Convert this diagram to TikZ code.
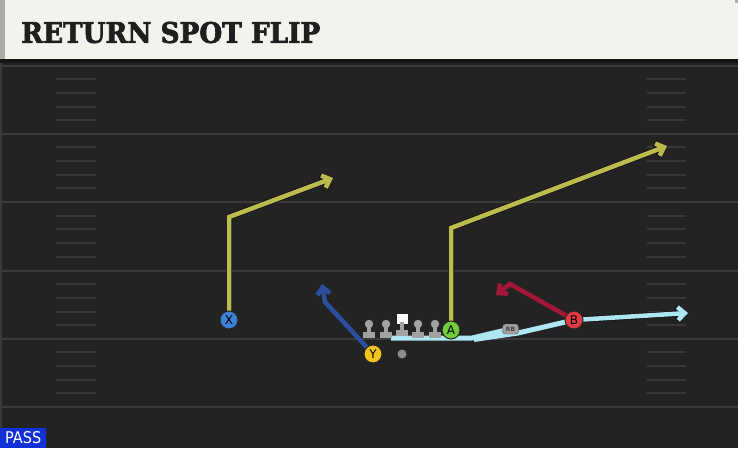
\documentclass[tikz,border=0pt]{standalone}
\usepackage{fontspec}
\setmainfont{DejaVu Serif}
\setsansfont{DejaVu Sans}
\newfontfamily\titlefont[BoldFeatures={FakeBold=2.5}]{DejaVu Serif}
\usetikzlibrary{arrows.meta}
\definecolor{fieldbg}{HTML}{232323}
\definecolor{titlebg}{HTML}{F4F2EC}
\definecolor{titlestrip}{HTML}{A9ACA9}
\definecolor{shadowc}{HTML}{161616}
\definecolor{yardc}{HTML}{3A3A3A}
\definecolor{hashc}{HTML}{383838}
\definecolor{routeyel}{HTML}{BBBB4E}
\definecolor{routeblu}{HTML}{2B4F9E}
\definecolor{routered}{HTML}{A3163A}
\definecolor{routelbl}{HTML}{AEE6F2}
\definecolor{pX}{HTML}{3D7FD9}
\definecolor{pY}{HTML}{F2C31B}
\definecolor{pA}{HTML}{72CC3C}
\definecolor{pB}{HTML}{E23B43}
\definecolor{linec}{HTML}{A2A2A2}
\definecolor{passblue}{HTML}{1230D8}
\definecolor{outl}{HTML}{101018}
\begin{document}
\begin{tikzpicture}[x=1pt,y=-1pt,
  yard/.style={draw=yardc,line width=2pt},
  hash/.style={draw=hashc,line width=2pt},
  tipb/.style={-{Straight Barb[length=7pt,width=13pt]}},
  routeo/.style={line width=6pt,draw=outl,line join=miter,tipb},
  route/.style={line width=4.5pt,line join=miter,tipb},
  motion/.style={line width=5pt,draw=routelbl,line join=round},
  player/.style={circle,minimum size=18pt,inner sep=0pt,draw=black!85,line width=1pt,font=\sffamily\fontsize{12}{12}\selectfont,text=black},
  lineman/.style={fill=linec}
]
\useasboundingbox (0,0) rectangle (738,448);
% background
\fill[fieldbg] (0,0) rectangle (738,448);
\fill[yardc] (0,63) rectangle (2,448);
\foreach \y in {65.5,133.5,202,270.5,338.5,407}{\draw[yard] (0,\y) -- (738,\y);}
\foreach \y in {65.5,133.5,202,270.5,338.5}{
  \foreach \k in {1,2,3,4}{
    \pgfmathsetmacro{\yy}{\y+\k*13.7}
    \draw[hash] (56,\yy) -- (96,\yy);
    \draw[hash] (647,\yy) -- (686,\yy);
  }
}
% title
\fill[shadowc] (0,59) rectangle (738,63);
\fill[titlebg] (0,0) rectangle (738,59);
\fill[titlestrip] (0,0) rectangle (5,59);
\fill[titlestrip] (735,0) rectangle (738,3);
\node[anchor=west,inner sep=0pt,text=black!88] (title) at (21,32.5)
  {\resizebox{299pt}{21pt}{\titlefont\bfseries RETURN SPOT FLIP}};
% coordinates
\coordinate (cX) at (229,320);
\coordinate (cY) at (373,354);
\coordinate (cA) at (451,330);
\coordinate (cB) at (574,320);
\coordinate (xc) at (229,217);
\coordinate (xt) at (333,178);
\coordinate (ac) at (451,228);
\coordinate (at) at (667,146);
\coordinate (yc) at (325,302);
\coordinate (yt) at (322,284);
\coordinate (bc) at (510,284);
\coordinate (bt) at (496,295);
\coordinate (m0) at (391,338);
\coordinate (m1) at (472,338);
\coordinate (m2) at (506,330);
\coordinate (m3) at (474,339.5);
\coordinate (m4) at (518,333);
\coordinate (mt) at (688,313);
% motion / light blue
\draw[motion] (m0) -- (m1) -- (m2);
\draw[motion] (m3) -- (m4) -- (cB);
\draw[routeo] (cB) -- (mt);
\draw[route,draw=routelbl] (cB) -- (mt);
% routes
\draw[routeo] (cX) -- (xc) -- (xt);
\draw[route,draw=routeyel] (cX) -- (xc) -- (xt);
\draw[routeo] (cA) -- (ac) -- (at);
\draw[route,draw=routeyel] (cA) -- (ac) -- (at);
\draw[route,draw=routeblu] (cY) -- (yc) -- (yt);
\draw[route,draw=routered] (cB) -- (bc) -- (bt);
% linemen
\foreach \lx in {369,386,418,435}{
  \fill[lineman] (\lx,324) circle (4.2);
  \fill[lineman] (\lx-2.2,325) rectangle (\lx+2.2,333);
  \fill[lineman] (\lx-6,332) rectangle (\lx+6,337.5);
}
\fill[white] (396.5,313.5) rectangle (407.5,323.5);
\fill[linec] (399.8,322) rectangle (404.2,331);
\fill[linec] (396,330) rectangle (408,335.5);
% ball
\fill[black!45] (402,354) circle (4.5);
% RB
\node[draw=black!70,fill=linec,rounded corners=3pt,minimum width=16pt,minimum height=10pt,inner sep=0pt,
  font=\sffamily\bfseries\fontsize{6}{6}\selectfont,text=black!75] (RB) at (510.5,329) {RB};
% players
\node[player,fill=pX] (X) at (cX) {X};
\node[player,fill=pY] (Y) at (cY) {Y};
\node[player,fill=pA] (A) at (cA) {A};
\node[player,fill=pB] (B) at (cB) {B};
% pass label
\node[fill=passblue,minimum width=46pt,minimum height=20pt,inner sep=0pt,anchor=south west,text=white] (pass) at (0,448)
  {\resizebox{36pt}{12pt}{\sffamily PASS}};
\end{tikzpicture}
\end{document}
